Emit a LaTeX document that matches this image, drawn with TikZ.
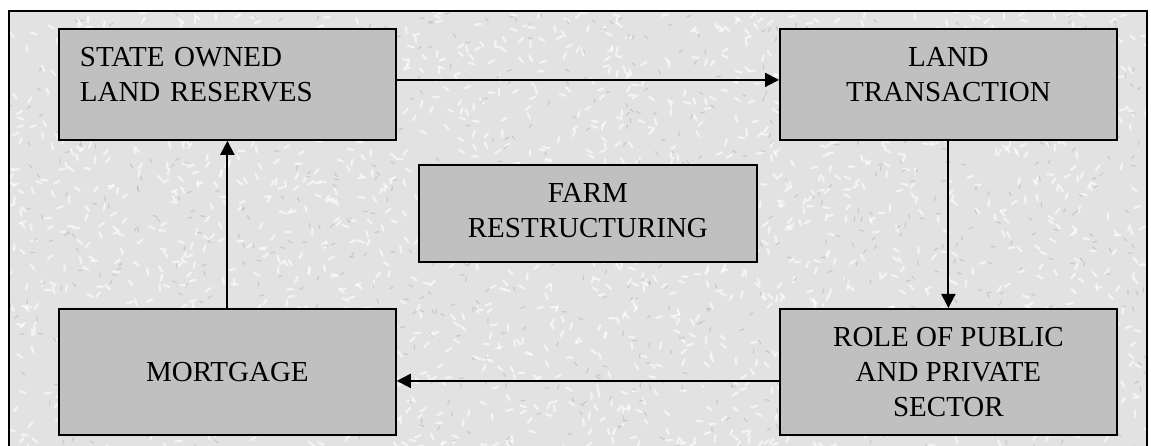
\documentclass[tikz,border=0pt]{standalone}
\usepackage{fontspec}
\setmainfont{Liberation Serif}
\usetikzlibrary{arrows.meta}
\definecolor{bgtex}{HTML}{E2E2E2}
\definecolor{boxgray}{HTML}{C0C0C0}
\tikzset{
  box/.style={draw=black, line width=1.8pt, fill=boxgray, inner sep=0pt,
    font=\fontsize{29}{35}\selectfont, align=center},
  conn/.style={line width=2pt, -{Triangle[length=14pt,width=14pt]}},
}
\begin{document}
\begin{tikzpicture}[x=1pt,y=-1pt]
\useasboundingbox (0,0) rectangle (1151,446);
% textured background
\fill[bgtex] (9,11) rectangle (1147,446);
\begin{scope}
\clip (9,11) rectangle (1147,446);
\pgfmathsetseed{7}
\foreach \i in {1,...,1800}{
  \pgfmathsetmacro{\px}{9+rnd*1138}
  \pgfmathsetmacro{\py}{11+rnd*435}
  \pgfmathsetmacro{\pa}{rnd*180}
  \draw[white, opacity=0.6, line width=2.2pt, line cap=round]
    (\px,\py) -- ++(\pa:6);
}
\foreach \i in {1,...,900}{
  \pgfmathsetmacro{\px}{9+rnd*1138}
  \pgfmathsetmacro{\py}{11+rnd*435}
  \pgfmathsetmacro{\pa}{rnd*180}
  \draw[gray, opacity=0.25, line width=1.2pt, line cap=round]
    (\px,\py) -- ++(\pa:4);
}
\end{scope}
\draw[line width=2pt] (9,446) -- (9,11) -- (1147,11) -- (1147,446);
% boxes
\node[box, anchor=north west, minimum height=111pt, text width=295pt,
  inner xsep=21pt, align=left] (state) at (58,28)
  {STATE OWNED\\LAND RESERVES\rule[-20pt]{0pt}{0pt}};
\node[box, anchor=north west, minimum width=337pt, minimum height=111pt]
  (trans) at (779,28) {LAND\\TRANSACTION\rule[-20pt]{0pt}{0pt}};
\node[box, anchor=north west, minimum width=338pt, minimum height=97pt]
  (farm) at (418,164) {FARM\\RESTRUCTURING\rule[-5pt]{0pt}{0pt}};
\node[box, anchor=north west, minimum width=337pt, minimum height=126pt]
  (mort) at (58,308) {MORTGAGE};
\node[box, anchor=north west, minimum width=337pt, minimum height=126pt]
  (role) at (779,308) {ROLE OF PUBLIC\\AND PRIVATE\\SECTOR};
% connectors
\draw[conn] ([yshift=4.5pt]state.east) -- ([yshift=4.5pt]trans.west);
\draw[conn] (trans.south) -- (role.north);
\draw[conn] ([yshift=-9pt]role.west) -- ([yshift=-9pt]mort.east);
\draw[conn] (mort.north) -- (state.south);
\end{tikzpicture}
\end{document}
